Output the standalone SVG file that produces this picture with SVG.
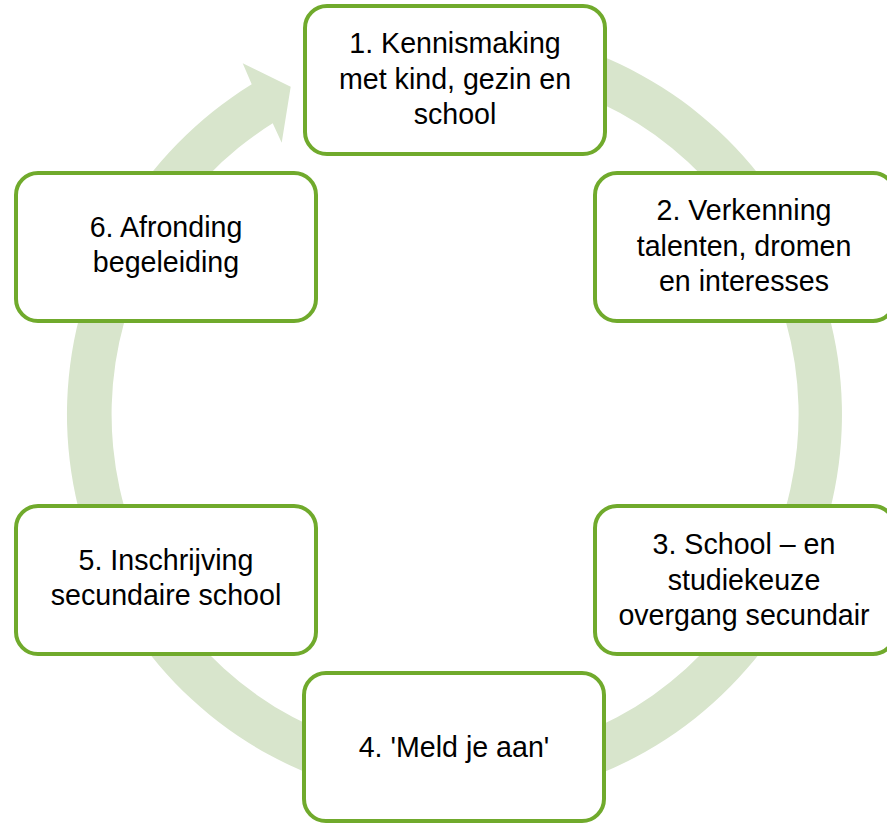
<svg xmlns="http://www.w3.org/2000/svg" width="887" height="823" viewBox="0 0 887 823">
  <style>
    .box { fill: #ffffff; stroke: #70aa2c; stroke-width: 4; }
    .lbl { font-family: "Liberation Sans", Arial, sans-serif; font-size: 28.6px; fill: #000000; text-anchor: middle; }
    .ring { fill: #d8e5cc; stroke: none; }
  </style>
  <rect x="0" y="0" width="887" height="823" fill="#ffffff"/>
  <g id="connectors">
    <path class="ring" d="M 387.2 32.9 A 387.5 387.5 0 1 1 251.7 84.3 L 242.7 63.3 L 290.7 86.7 L 281.7 142.7 L 272.7 123.3 A 343.5 343.5 0 1 0 394.85 76.2 Z"/>
  </g>
  <g id="node1">
    <rect class="box" x="305" y="6" width="300" height="148" rx="22"/>
    <text class="lbl" x="455" y="53">1. Kennismaking</text>
    <text class="lbl" x="455" y="88.5">met kind, gezin en</text>
    <text class="lbl" x="455" y="124">school</text>
  </g>
  <g id="node2">
    <rect class="box" x="595" y="173" width="300" height="148" rx="22"/>
    <text class="lbl" x="744" y="220">2. Verkenning</text>
    <text class="lbl" x="744" y="255.5">talenten, dromen</text>
    <text class="lbl" x="744" y="291">en interesses</text>
  </g>
  <g id="node3">
    <rect class="box" x="595" y="506" width="300" height="148" rx="22"/>
    <text class="lbl" x="744" y="554">3. School – en</text>
    <text class="lbl" x="744" y="589.5">studiekeuze</text>
    <text class="lbl" x="744" y="625">overgang secundair</text>
  </g>
  <g id="node4">
    <rect class="box" x="304" y="673" width="300" height="148" rx="22"/>
    <text class="lbl" x="454" y="757">4. 'Meld je aan'</text>
  </g>
  <g id="node5">
    <rect class="box" x="16" y="506" width="300" height="148" rx="22"/>
    <text class="lbl" x="166" y="570">5. Inschrijving</text>
    <text class="lbl" x="166" y="605">secundaire school</text>
  </g>
  <g id="node6">
    <rect class="box" x="16" y="173" width="300" height="148" rx="22"/>
    <text class="lbl" x="166" y="237">6. Afronding</text>
    <text class="lbl" x="166" y="272">begeleiding</text>
  </g>
</svg>
